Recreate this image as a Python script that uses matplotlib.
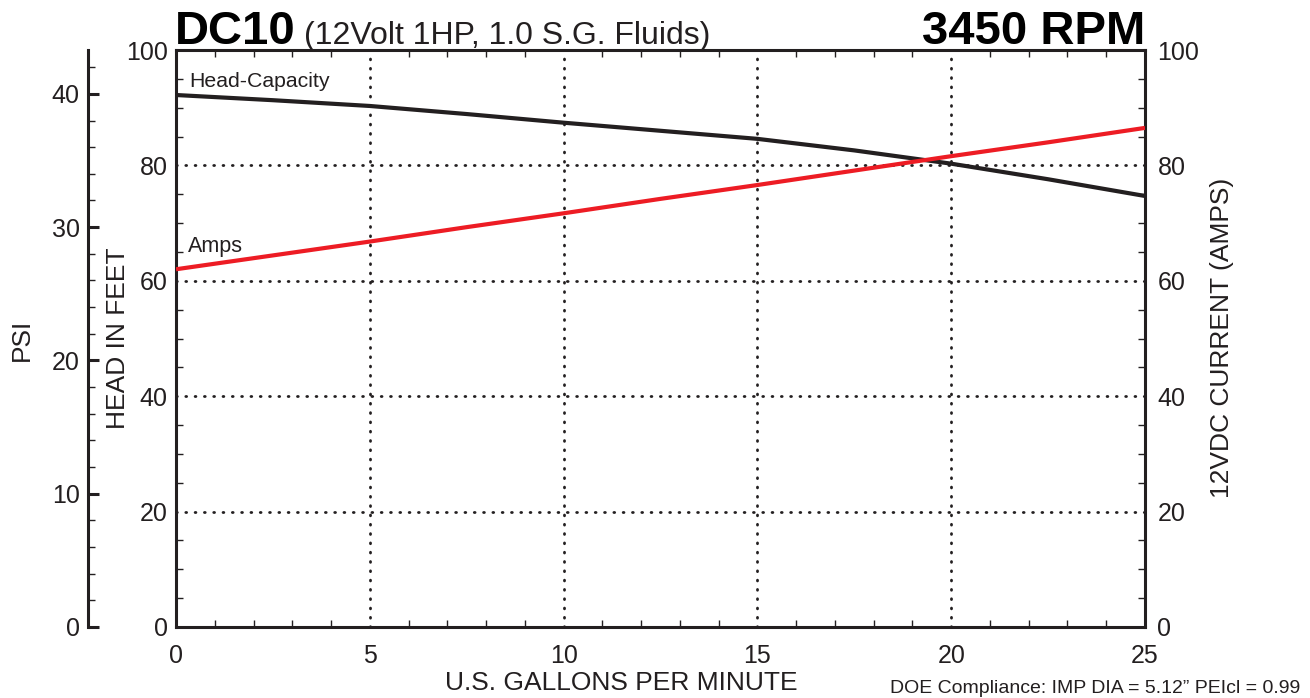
import numpy as np
import matplotlib.pyplot as plt

plt.rcParams['font.family'] = ['Liberation Sans', 'DejaVu Sans']

# data
gpm = [0, 2.5, 5, 7.5, 10, 12.5, 15, 17.5, 20, 22.5, 25]
head_ft = [92.2, 91.3, 90.3, 88.9, 87.4, 86.0, 84.6, 82.6, 80.3, 77.6, 74.7]
amps = [62.0, 64.4, 66.8, 69.3, 71.7, 74.2, 76.6, 79.1, 81.6, 84.0, 86.5]
x_ticks = [0, 5, 10, 15, 20, 25]
ft_ticks = [0, 20, 40, 60, 80, 100]
psi_ticks = [0, 10, 20, 30, 40]
ft_per_psi = 2.31

black = '#231f20'
red = '#ed1c24'

fig = plt.figure(figsize=(13.1, 6.98), dpi=100)
rect = [176/1310, 1-627/698, (1145-176)/1310, (627-50)/698]
ax = fig.add_axes(rect)

ax.plot(gpm, head_ft, color=black, lw=3.0, solid_capstyle='butt', zorder=3)
ax.plot(gpm, amps, color=red, lw=3.0, solid_capstyle='butt', zorder=4)

ax.set_xlim(0, 25)
ax.set_ylim(0, 100)
ax.set_xticks(x_ticks)
ax.set_yticks(ft_ticks)
ax.set_xticks(np.arange(0, 26, 1), minor=True)
ax.set_yticks(np.arange(0, 101, 5), minor=True)
ax.tick_params(which='both', direction='in', top=True, right=False, color=black)
ax.tick_params(which='major', length=0, labelsize=18, labelcolor=black)
ax.tick_params(axis='x', which='major', pad=12)
ax.tick_params(axis='y', which='major', pad=6)
ax.tick_params(which='minor', length=5, width=1)
for s in ax.spines.values():
    s.set_linewidth(2.2)
    s.set_color(black)

# right side amps scale
rax = ax.twinx()
rax.set_ylim(0, 100)
rax.set_yticks(ft_ticks)
rax.set_yticks(np.arange(0, 101, 5), minor=True)
rax.tick_params(which='both', direction='in', color=black)
rax.tick_params(which='major', length=0, labelsize=18, pad=9, labelcolor=black)
rax.tick_params(which='minor', length=5, width=1)
for s in rax.spines.values():
    s.set_visible(False)

# dotted grid
for xv in x_ticks[1:-1]:
    ax.axvline(xv, color=black, lw=2.0, ls=(0, (0.3, 3.05)), dash_capstyle='round', zorder=1)
for yv in ft_ticks[1:-1]:
    ax.axhline(yv, color=black, lw=2.0, ls=(0, (0.3, 3.05)), dash_capstyle='round', zorder=1)

fig.text(621/1310, 1-683/698, 'U.S. GALLONS PER MINUTE', fontsize=19, color=black,
         ha='center', va='center')
fig.text(118/1310, 1-338/698, 'HEAD IN FEET', rotation=90, fontsize=19, color=black,
         ha='center', va='center')
fig.text(1222/1310, 1-338/698, '12VDC CURRENT (AMPS)', rotation=90, fontsize=19,
         color=black, ha='center', va='center')

ax.text(0.35, 94.6, 'Head-Capacity', fontsize=15.3, color=black, va='center')
ax.text(0.3, 66.0, 'Amps', fontsize=15.5, color=black, va='center')

# PSI axis on the far left
pax = fig.add_axes([88/1310, rect[1], 0.001, rect[3]])
pax.set_ylim(0, 100/ft_per_psi)
pax.set_xticks([])
pax.set_yticks(psi_ticks)
pax.set_yticks(np.arange(0, 43, 2), minor=True)
pax.patch.set_visible(False)
for k in ['top', 'right', 'bottom']:
    pax.spines[k].set_visible(False)
pax.spines['left'].set_linewidth(2.2)
pax.spines['left'].set_color(black)
pax.tick_params(axis='y', which='both', direction='in', color=black)
pax.tick_params(axis='y', which='major', length=8, width=2.2, labelsize=18, pad=6, labelcolor=black)
pax.tick_params(axis='y', which='minor', length=5, width=1)
fig.text(22/1310, 1-340/698, 'PSI', rotation=90, fontsize=19, color=black,
         ha='center', va='center')

# titles
fig.text(175/1310, 1-44/698, 'DC10', fontsize=34, fontweight='bold', color='black',
         ha='left', va='baseline')
fig.text(304/1310, 1-44/698, '(12Volt 1HP, 1.0 S.G. Fluids)', fontsize=23, color=black,
         ha='left', va='baseline')
fig.text(1145/1310, 1-44/698, '3450 RPM', fontsize=34, fontweight='bold', color='black',
         ha='right', va='baseline')
fig.text(1300/1310, 1-693/698, 'DOE Compliance: IMP DIA = 5.12\u201d PEIcl = 0.99',
         fontsize=14, color=black, ha='right', va='baseline',
         family=['Liberation Sans Narrow', 'Liberation Sans', 'DejaVu Sans'])

fig.savefig('out.png', dpi=100)
